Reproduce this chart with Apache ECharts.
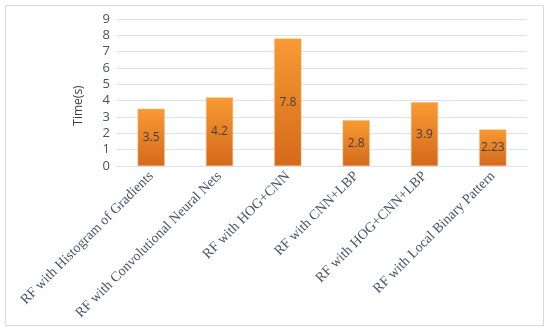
<!DOCTYPE html>
<html>
<head>
<meta charset="utf-8">
<script src="https://cdn.jsdelivr.net/npm/echarts@6/dist/echarts.min.js"></script>
<style>
  html, body { margin: 0; padding: 0; background: #fff; }
  #chart { width: 550px; height: 333px; }
</style>
</head>
<body>
<div id="chart"></div>
<script>
// data
var categories = [
    'RF with Histogram of Gradients',
    'RF with Convolutional Neural Nets',
    'RF with HOG+CNN',
    'RF with CNN+LBP',
    'RF with HOG+CNN+LBP',
    'RF with Local Binary Pattern'
];
var timeValues = [3.5, 4.2, 7.8, 2.8, 3.9, 2.23];
var yTicks = [0, 9, 1]; // min, max, step

var chart = echarts.init(document.getElementById('chart'));

var options = {
    animation: false,
    graphic: [{
        type: 'rect',
        shape: {x: 5.5, y: 5.5, width: 538, height: 320},
        style: {fill: 'none', stroke: '#d9d9d9', lineWidth: 1}
    }],
    grid: {left: 117, right: 23, top: 19, bottom: 167},
    xAxis: {
        type: 'category',
        data: categories,
        axisLine: {lineStyle: {color: '#d9e1f2', width: 1}},
        axisTick: {show: false},
        axisLabel: {
            rotate: 45,
            interval: 0,
            margin: 8,
            color: '#44546a',
            fontFamily: 'Liberation Serif',
            fontSize: 14
        }
    },
    yAxis: {
        type: 'value',
        min: yTicks[0],
        max: yTicks[1],
        interval: yTicks[2],
        name: 'Time(s)',
        nameLocation: 'middle',
        nameGap: 32,
        nameTextStyle: {color: '#404040', fontFamily: 'Open Sans', fontSize: 12, padding: [0, 26, 0, 0]},
        axisLine: {show: false},
        axisTick: {show: false},
        axisLabel: {color: '#44546a', fontFamily: 'Open Sans', fontSize: 13, margin: 7},
        splitLine: {lineStyle: {color: '#d9e1f2', width: 1}}
    },
    series: [{
        name: 'Time',
        type: 'bar',
        data: timeValues,
        barWidth: 27,
        itemStyle: {
            color: new echarts.graphic.LinearGradient(0, 0, 0, 1, [
                {offset: 0, color: '#f99a33'},
                {offset: 1, color: '#d4691c'}
            ]),
            borderColor: '#f8b26a',
            borderWidth: 0.5
        },
        label: {
            show: true,
            position: 'inside',
            color: '#404040',
            fontFamily: 'Open Sans',
            fontSize: 12
        }
    }]
};
chart.setOption(options);
</script>
</body>
</html>
